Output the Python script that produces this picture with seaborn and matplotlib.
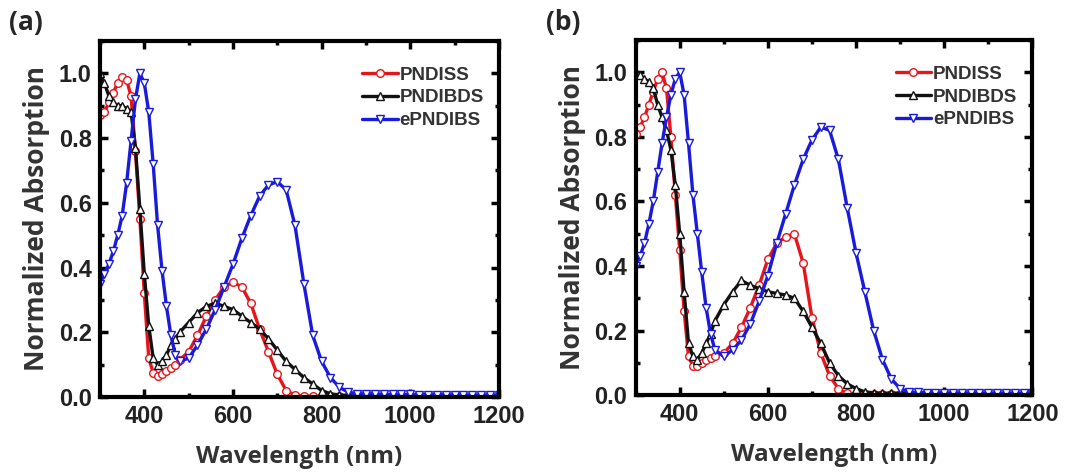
import numpy as np
import pandas as pd
import matplotlib
matplotlib.use("Agg")
import matplotlib.pyplot as plt
import seaborn as sns
from matplotlib.ticker import MultipleLocator

sns.set_style("ticks")
plt.rcParams['font.family'] = ['Liberation Sans', 'DejaVu Sans']

wavelength = [300, 310, 320, 330, 340, 350, 360, 370, 380, 390, 400, 410, 420, 430, 440, 450, 460, 470, 480,
              500, 520, 540, 560, 580, 600, 620, 640, 660, 680, 700, 720, 740, 760, 780, 800, 820, 840, 860,
              880, 900, 920, 940, 960, 980, 1000, 1020, 1040, 1060, 1080, 1100, 1120, 1140, 1160, 1180, 1200]

# Panel (a)
pndiss_a = [0.87, 0.88, 0.91, 0.94, 0.97, 0.99, 0.98, 0.93, 0.76, 0.55, 0.32, 0.12, 0.075, 0.065, 0.07, 0.08, 0.09, 0.10, 0.115,
            0.14, 0.19, 0.25, 0.30, 0.34, 0.355, 0.34, 0.29, 0.21, 0.14, 0.07, 0.02, 0.006, 0.003, 0.002, 0.002, 0.002, 0.002, 0.002,
            0.002, 0.002, 0.002, 0.002, 0.002, 0.002, 0.002, 0.002, 0.002, 0.002, 0.002, 0.002, 0.002, 0.002, 0.002, 0.002, 0.002]
pndibds_a = [1.0, 0.97, 0.93, 0.91, 0.90, 0.90, 0.89, 0.88, 0.77, 0.58, 0.38, 0.22, 0.12, 0.10, 0.11, 0.13, 0.16, 0.18, 0.20,
             0.23, 0.26, 0.28, 0.29, 0.28, 0.27, 0.25, 0.23, 0.21, 0.18, 0.145, 0.11, 0.085, 0.06, 0.04, 0.02, 0.01, 0.006, 0.005,
             0.005, 0.005, 0.005, 0.005, 0.005, 0.005, 0.005, 0.005, 0.005, 0.005, 0.005, 0.005, 0.005, 0.005, 0.005, 0.005, 0.005]
epndibs_a = [0.35, 0.38, 0.41, 0.45, 0.50, 0.56, 0.66, 0.79, 0.92, 1.0, 0.97, 0.88, 0.72, 0.53, 0.39, 0.28, 0.19, 0.13, 0.11,
             0.12, 0.16, 0.21, 0.27, 0.34, 0.41, 0.49, 0.56, 0.62, 0.655, 0.665, 0.64, 0.53, 0.35, 0.19, 0.11, 0.06, 0.03, 0.015,
             0.01, 0.01, 0.01, 0.008, 0.008, 0.008, 0.008, 0.007, 0.007, 0.007, 0.007, 0.006, 0.006, 0.006, 0.006, 0.006, 0.006]

# Panel (b)
pndiss_b = [0.81, 0.83, 0.86, 0.90, 0.94, 0.98, 1.0, 0.95, 0.80, 0.62, 0.45, 0.26, 0.12, 0.09, 0.09, 0.10, 0.11, 0.115, 0.12,
            0.13, 0.16, 0.21, 0.27, 0.34, 0.42, 0.47, 0.49, 0.50, 0.41, 0.24, 0.13, 0.06, 0.02, 0.005, 0.003, 0.003, 0.003, 0.003,
            0.003, 0.003, 0.003, 0.003, 0.003, 0.003, 0.003, 0.003, 0.003, 0.003, 0.003, 0.003, 0.003, 0.003, 0.003, 0.003, 0.003]
pndibds_b = [1.0, 0.99, 0.98, 0.97, 0.95, 0.90, 0.86, 0.82, 0.76, 0.65, 0.50, 0.32, 0.16, 0.12, 0.11, 0.13, 0.16, 0.19, 0.23,
             0.28, 0.32, 0.355, 0.34, 0.33, 0.32, 0.315, 0.31, 0.30, 0.26, 0.21, 0.16, 0.10, 0.06, 0.035, 0.02, 0.01, 0.007, 0.006,
             0.006, 0.006, 0.006, 0.006, 0.006, 0.006, 0.006, 0.006, 0.006, 0.006, 0.006, 0.006, 0.006, 0.006, 0.006, 0.006, 0.006]
epndibs_b = [0.40, 0.43, 0.47, 0.53, 0.60, 0.69, 0.78, 0.86, 0.93, 0.98, 1.0, 0.93, 0.78, 0.62, 0.50, 0.38, 0.27, 0.19, 0.14,
             0.12, 0.14, 0.17, 0.22, 0.29, 0.37, 0.47, 0.56, 0.65, 0.73, 0.79, 0.83, 0.82, 0.73, 0.58, 0.44, 0.32, 0.20, 0.11,
             0.05, 0.02, 0.01, 0.008, 0.007, 0.007, 0.006, 0.006, 0.006, 0.006, 0.006, 0.006, 0.005, 0.005, 0.005, 0.005, 0.005]

series_names = ["PNDISS", "PNDIBDS", "ePNDIBS"]
series_colors = ["#e8141c", "#111111", "#1a1adc"]
series_markers = ["o", "^", "v"]
panel_labels = ["(a)", "(b)"]
x_ticks = [400, 600, 800, 1000, 1200]
y_ticks = [0.0, 0.2, 0.4, 0.6, 0.8, 1.0]

panels = [[pndiss_a, pndibds_a, epndibs_a], [pndiss_b, pndibds_b, epndibs_b]]

fig = plt.figure(figsize=(10.81, 4.76), dpi=100)
axes_pos = [[0.0925, 0.166, 0.369, 0.748], [0.588, 0.170, 0.367, 0.746]]
label_pos = [(0.008, 0.925), (0.505, 0.925)]

for pi, (pos, data) in enumerate(zip(axes_pos, panels)):
    ax = fig.add_axes(pos)
    for name, vals, col, mk in zip(series_names, data, series_colors, series_markers):
        df = pd.DataFrame({"Wavelength": wavelength, "Absorption": vals})
        sns.lineplot(data=df, x="Wavelength", y="Absorption", ax=ax, color=col, lw=2.4,
                     marker=mk, markersize=5.5, markerfacecolor="white", markeredgecolor=col,
                     markeredgewidth=1.0, label=name, sort=False)
    ax.set_xlim(300, 1200)
    ax.set_ylim(0, 1.1)
    ax.set_xticks(x_ticks)
    ax.set_yticks(y_ticks)
    ax.set_yticklabels([f"{v:.1f}" for v in y_ticks])
    ax.xaxis.set_minor_locator(MultipleLocator(100))
    ax.yaxis.set_minor_locator(MultipleLocator(0.1))
    ax.tick_params(which="both", direction="in", top=True, right=True, width=2.5, color="black")
    ax.tick_params(which="major", length=6, labelsize=17, pad=6)
    ax.tick_params(which="minor", length=3)
    for lab in ax.get_xticklabels() + ax.get_yticklabels():
        lab.set_fontweight("bold")
        lab.set_color("#222222")
    for sp in ax.spines.values():
        sp.set_linewidth(3)
        sp.set_color("black")
    ax.set_xlabel("Wavelength (nm)", fontsize=17.5, fontweight="bold", color="#333333",
                  family=["Open Sans", "DejaVu Sans"], labelpad=12)
    ax.set_ylabel("Normalized Absorption", fontsize=19, fontweight="bold", color="#333333",
                  family=["Open Sans", "DejaVu Sans"], labelpad=6)
    leg = ax.legend(loc="upper right", frameon=False, handlelength=1.9, handletextpad=0.1,
                    labelspacing=0.3, borderaxespad=0.4, prop={"weight": "bold", "size": 13.5},
                    bbox_to_anchor=(1.0, 0.97))
    for t in leg.get_texts():
        t.set_color("#333333")
    fig.text(label_pos[pi][0], label_pos[pi][1], panel_labels[pi], fontsize=19, fontweight="bold",
             family=["Open Sans", "DejaVu Sans"], va="bottom")

fig.savefig("out.png", dpi=100)
